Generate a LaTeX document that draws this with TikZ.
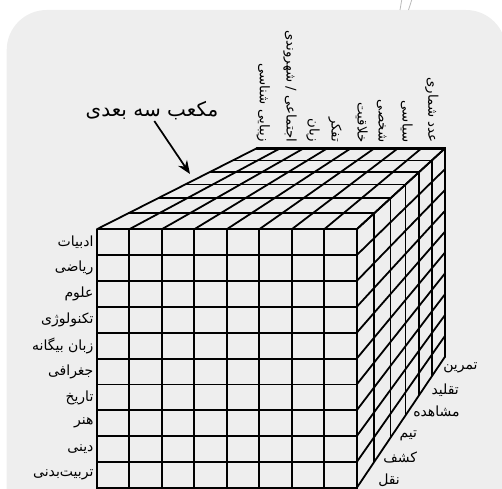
\documentclass[tikz,border=0pt]{standalone}
\usepackage{fontspec}
\usetikzlibrary{arrows.meta}
\TeXXeTstate=1
\newfontfamily\arabicfont[Script=Arabic]{DejaVu Sans}
\definecolor{bggray}{HTML}{EEEEEE}
\definecolor{edgegray}{HTML}{BBBBBB}
\tikzset{
  gridline/.style={line width=1.35pt, black},
  outerline/.style={line width=2.1pt, black, line cap=round},
  rowlabel/.style={font=\arabicfont\fontsize{10.5}{12}\selectfont, anchor=east, inner sep=1pt},
  collabel/.style={font=\arabicfont\fontsize{10}{12}\selectfont, rotate=-90, anchor=east, inner sep=1pt},
  depthlabel/.style={font=\arabicfont\fontsize{10.5}{12}\selectfont, anchor=west, inner sep=1pt},
  titlelabel/.style={font=\arabicfont\fontsize{15}{18}\selectfont, inner sep=1pt},
  pointer/.style={line width=1.3pt, -{Stealth[length=10pt,width=8pt]}}
}
\begin{document}
\begin{tikzpicture}[x=0.75pt,y=-0.75pt]
\useasboundingbox (0,0) rectangle (502,488);
\clip (0,0) rectangle (502,488);
% background panel
\fill[bggray, rounded corners=30pt] (6.7,10) rectangle (506,540);
\draw[edgegray, line width=0.6pt] (400,10) -- (401.7,0);
\draw[edgegray, line width=0.6pt] (408.5,10) -- (411.7,0);
% front face
\foreach \i in {0,...,8}
  \draw[gridline] ({96.7+32.5*\i},229.3) -- ({96.7+32.5*\i},500);
\foreach \j in {0,...,10}
  \draw[gridline] (96.7,{229.3+25.86*\j}) -- (356.7,{229.3+25.86*\j});
% top face
\foreach \i in {0,...,8}
  \draw[gridline] ({96.7+32.5*\i},229.3) -- ({256.7+23.54*\i},148.3);
\foreach \t in {0,0.197,0.383,0.553,0.705,0.85,1}
  \draw[gridline] ({96.7+160*\t},{229.3-81*\t}) -- ({356.7+88.3*\t},{229.3-81*\t});
% side face
\foreach \t in {0,0.197,0.383,0.553,0.705,0.85,1}
  \draw[gridline] ({356.7+88.3*\t},{229.3-81*\t}) -- ({356.7+88.3*\t},{487.9-131.2*\t});
\foreach \j in {0,...,10}
  \draw[gridline] (356.7,{229.3+25.86*\j}) -- (445,{148.3+20.84*\j});
% outer edges
\draw[outerline] (256.7,148.3) -- (445,148.3) -- (445,356.7);
% title and arrow
\node[titlelabel] (title) at (152,111) {\beginR مکعب سه بعدی\endR};
\coordinate (arrowfrom) at (154.3,121);
\coordinate (arrowto) at (190,174);
\draw[pointer] (arrowfrom) -- (arrowto);
% row labels
\node[rowlabel] (r1) at (95,{229.3+25.86*0.5}) {\beginR ادبیات\endR};
\node[rowlabel] (r2) at (95,{229.3+25.86*1.5}) {\beginR ریاضی\endR};
\node[rowlabel] (r3) at (95,{229.3+25.86*2.5}) {\beginR علوم\endR};
\node[rowlabel] (r4) at (95,{229.3+25.86*3.5}) {\beginR تکنولوژی\endR};
\node[rowlabel] (r5) at (95,{229.3+25.86*4.5}) {\beginR زبان بیگانه\endR};
\node[rowlabel] (r6) at (95,{229.3+25.86*5.5}) {\beginR جغرافی\endR};
\node[rowlabel] (r7) at (95,{229.3+25.86*6.5}) {\beginR تاریخ\endR};
\node[rowlabel] (r8) at (95,{229.3+25.86*7.5}) {\beginR هنر\endR};
\node[rowlabel] (r9) at (95,{229.3+25.86*8.5}) {\beginR دینی\endR};
\node[rowlabel] (r10) at (95,{229.3+25.86*9.5}) {\beginR تربیت‌بدنی\endR};
% column labels
\node[collabel] (c1) at (263.3,144) {\beginR زیبایی شناسی\endR};
\node[collabel] (c2) at (290,144) {\beginR اجتماعی / شهروندی\endR};
\node[collabel] (c3) at (313,144) {\beginR زبان\endR};
\node[collabel] (c4) at (335,144) {\beginR تفکر\endR};
\node[collabel] (c5) at (361.7,144) {\beginR خلاقیت\endR};
\node[collabel] (c6) at (381.7,144) {\beginR شخصی\endR};
\node[collabel] (c7) at (406.7,144) {\beginR سیاسی\endR};
\node[collabel] (c8) at (431.7,144) {\beginR عدد شماری\endR};
% depth labels
\node[depthlabel] (d1) at (441.7,367.5) {\beginR تمرین\endR};
\node[depthlabel] (d2) at (430,390) {\beginR تقلید\endR};
\node[depthlabel] (d3) at (411.7,411) {\beginR مشاهده\endR};
\node[depthlabel] (d4) at (398,436) {\beginR تیم\endR};
\node[depthlabel] (d5) at (381.7,457) {\beginR کشف\endR};
\node[depthlabel] (d6) at (376.7,480) {\beginR نقل\endR};
\end{tikzpicture}
\end{document}
